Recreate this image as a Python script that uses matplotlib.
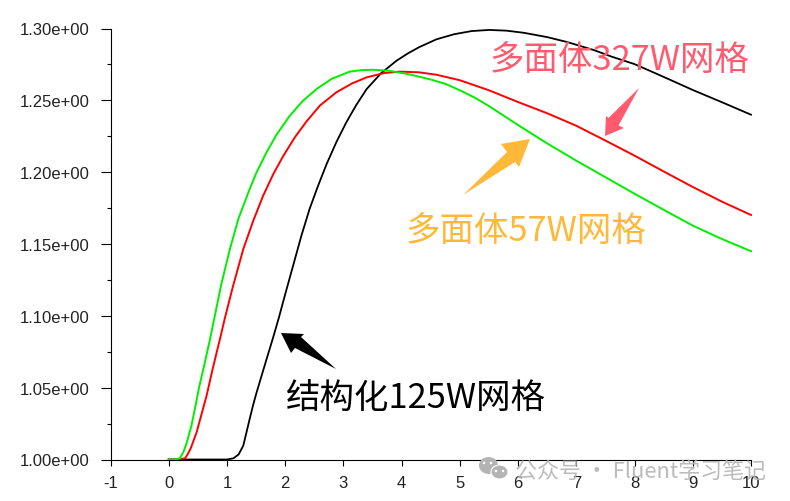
import matplotlib
matplotlib.use('Agg')
import matplotlib.pyplot as plt
from matplotlib.patches import Polygon, Ellipse
from matplotlib.transforms import Affine2D

plt.rcParams['font.family'] = ['Liberation Sans', 'DejaVu Sans']
plt.rcParams['axes.unicode_minus'] = False
CJK = ['Noto Sans CJK SC', 'DejaVu Sans']

# curves
black_x = [0.0, 0.5, 1.0, 1.11, 1.20, 1.28, 1.33, 1.39, 1.45, 1.51, 1.60, 1.70, 1.79, 1.89, 2.00, 2.14, 2.28, 2.42, 2.56, 2.71, 2.88, 3.05, 3.22, 3.40, 3.65, 3.91, 4.10, 4.30, 4.60, 4.90, 5.20, 5.50, 5.80, 6.10, 6.50, 6.84, 7.30, 7.60, 8.00, 8.26, 8.60, 9.00, 9.50, 10.0]
black_y = [1.0, 1.0, 1.0, 1.0008, 1.0035, 1.0096, 1.0180, 1.0282, 1.0380, 1.0468, 1.0590, 1.0725, 1.0845, 1.0985, 1.1150, 1.1355, 1.1560, 1.1745, 1.1900, 1.2055, 1.2210, 1.2347, 1.2467, 1.2579, 1.2690, 1.2775, 1.2825, 1.2870, 1.2925, 1.2960, 1.2982, 1.2990, 1.2985, 1.2970, 1.2940, 1.2906, 1.2850, 1.2805, 1.2752, 1.2706, 1.2645, 1.2572, 1.2487, 1.2400]
red_x = [0.0, 0.15, 0.28, 0.33, 0.38, 0.48, 0.56, 0.65, 0.76, 0.88, 0.96, 1.10, 1.28, 1.45, 1.62, 1.80, 1.97, 2.17, 2.37, 2.60, 2.88, 3.15, 3.40, 3.70, 3.97, 4.30, 4.60, 5.0, 5.5, 6.0, 6.5, 7.0, 7.5, 8.0, 8.5, 9.0, 9.5, 10.0]
red_y = [1.0, 1.0, 1.0008, 1.0040, 1.0080, 1.0191, 1.0310, 1.0444, 1.0640, 1.0839, 1.0977, 1.1200, 1.1464, 1.1660, 1.1835, 1.1990, 1.2115, 1.2245, 1.2355, 1.2465, 1.2556, 1.2618, 1.2660, 1.2690, 1.2700, 1.2695, 1.2678, 1.2640, 1.2570, 1.2488, 1.2410, 1.2323, 1.2220, 1.2115, 1.2005, 1.1897, 1.1795, 1.1702]
green_x = [0.0, 0.10, 0.19, 0.25, 0.30, 0.39, 0.46, 0.52, 0.62, 0.71, 0.78, 0.90, 1.05, 1.20, 1.39, 1.51, 1.68, 1.85, 2.08, 2.30, 2.54, 2.80, 3.11, 3.30, 3.51, 3.80, 4.14, 4.50, 4.75, 5.0, 5.25, 5.5, 6.0, 6.5, 7.0, 7.5, 8.0, 8.5, 9.0, 9.5, 10.0]
green_y = [1.0, 1.0, 1.0008, 1.0050, 1.0105, 1.0235, 1.0375, 1.0500, 1.0675, 1.0839, 1.0977, 1.1215, 1.1464, 1.1680, 1.1882, 1.2000, 1.2138, 1.2260, 1.2393, 1.2495, 1.2579, 1.2650, 1.2700, 1.2710, 1.2713, 1.2705, 1.2680, 1.2645, 1.2615, 1.2570, 1.2520, 1.2460, 1.2328, 1.2200, 1.2080, 1.1965, 1.1850, 1.1738, 1.1628, 1.1535, 1.1450]

x_ticks = list(range(-1, 11))
y_ticks = [1.00, 1.05, 1.10, 1.15, 1.20, 1.25, 1.30]
y_minor = [1.025, 1.075, 1.125, 1.175, 1.225, 1.275]
y_labels = ['%.2fe+00' % v for v in y_ticks]

fig = plt.figure(figsize=(7.9, 5.02), dpi=100)
ax = fig.add_axes([110.5 / 790, 1 - 460.5 / 502, (751 - 110.5) / 790, (460.5 - 29.5) / 502])

ax.plot(black_x, black_y, color='black', lw=1.3, clip_on=False)
ax.plot(red_x, red_y, color='#ff0000', lw=1.4, clip_on=False)
ax.plot(green_x, green_y, color='#00ee00', lw=1.4, clip_on=False)

ax.set_xlim(-1, 10)
ax.set_ylim(1.0, 1.3)
ax.set_xticks(x_ticks)
ax.set_xticklabels([str(v) for v in x_ticks])
ax.set_yticks(y_ticks)
ax.set_yticklabels(y_labels)
ax.set_yticks(y_minor, minor=True)
ax.spines['top'].set_visible(False)
ax.spines['right'].set_visible(False)
ax.tick_params(axis='y', which='major', length=7.2, width=0.8, labelsize=12, pad=8, labelcolor='#222222')
ax.tick_params(axis='y', which='minor', length=3, width=0.8)
ax.tick_params(axis='x', which='major', length=4.5, width=0.8, labelsize=12, pad=6.5, labelcolor='#222222')

# everything pasted on top of the plot is placed in image pixels
px = Affine2D().scale(1, -1).translate(0, 502)

fig.text(489, 60, '多面体327W网格', transform=px, family=CJK, fontsize=24.8, color='#ff5a6e', va='center')
fig.text(405.5, 231, '多面体57W网格', transform=px, family=CJK, fontsize=24.8, color='#ffb838', va='center')
fig.text(286, 399, '结构化125W网格', transform=px, family=CJK, fontsize=24.8, color='black', va='center')

red_arrow = [(639, 89), (608.5, 119), (606, 117), (605, 137), (624, 129), (618.5, 126.5)]
orange_arrow = [(463, 196), (507, 153), (501, 145), (530, 140), (519, 168), (515, 163)]
black_arrow = [(336, 370), (301, 338), (304, 335), (281, 334), (291, 354), (295, 349)]
for pts, col in [(red_arrow, '#ff5a6e'), (orange_arrow, '#ffb838'), (black_arrow, 'black')]:
    fig.add_artist(Polygon(pts, closed=True, transform=px, facecolor=col, edgecolor='none'))

# watermark
wm = '#b4b4b4'
fig.add_artist(Ellipse((488.5, 466.5), 19, 17, transform=px, facecolor=wm, edgecolor='none'))
fig.add_artist(Ellipse((499.5, 473), 17, 14, transform=px, facecolor=wm, edgecolor='white', lw=0.8))
for ex, ey in [(484, 464), (491, 464), (496, 472), (503, 472)]:
    fig.add_artist(Ellipse((ex, ey), 2.5, 2.5, transform=px, facecolor='white', edgecolor='none'))
fig.text(515, 472, '公众号 · Fluent学习笔记', transform=px, family=CJK, fontsize=15.8, color=wm, alpha=0.9, va='center')

fig.savefig('out.png', dpi=100)
